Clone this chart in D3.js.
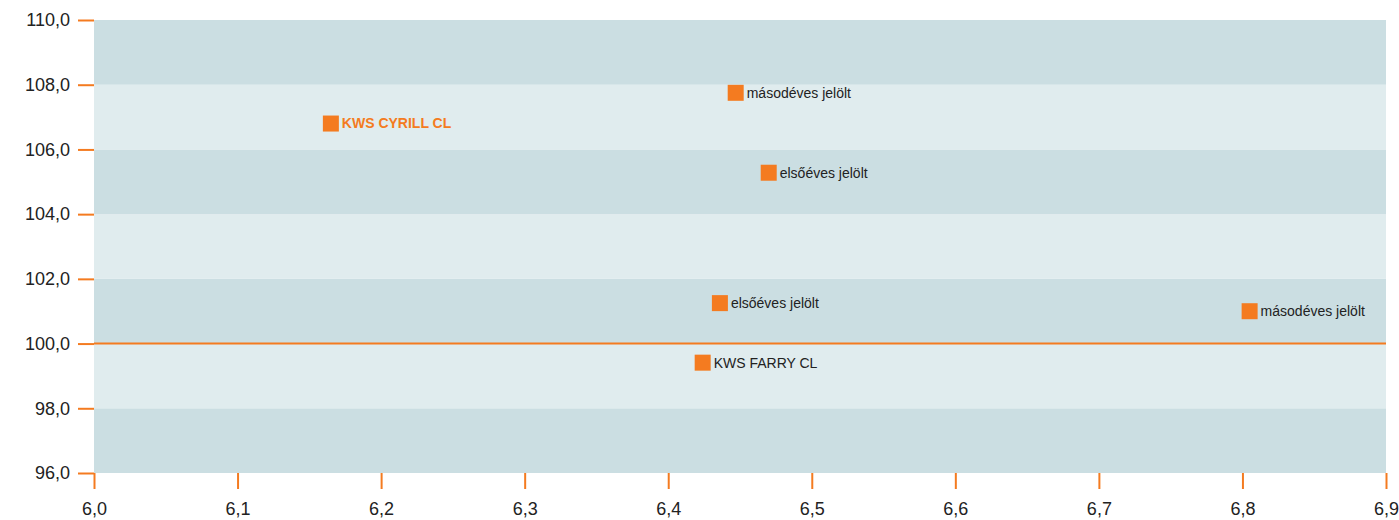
<!DOCTYPE html>
<html>
<head>
<meta charset="utf-8">
<script src="https://cdn.jsdelivr.net/npm/d3@7"></script>
<style>
body { margin:0; background:#fff; }
text { font-family: "Liberation Sans", Arial, sans-serif; }
</style>
</head>
<body>
<svg id="svg" width="1399" height="520"></svg>
<script>
var names   = ["KWS CYRILL CL", "másodéves jelölt", "elsőéves jelölt", "elsőéves jelölt", "másodéves jelölt", "KWS FARRY CL"],
    xVals   = [6.165, 6.447, 6.47, 6.436, 6.805, 6.424],
    yVals   = [106.8, 107.75, 105.28, 101.25, 101.0, 99.41],
    isOwn   = [true, false, false, false, false, false],
    xTicks  = [6.0, 6.1, 6.2, 6.3, 6.4, 6.5, 6.6, 6.7, 6.8, 6.9],
    yTicks  = [96, 98, 100, 102, 104, 106, 108, 110],
    refLine = 100;

var orange = "#f47b20",
    dark   = "#cbdee2",
    light  = "#e0ecee",
    ink    = "#222";

var svg = d3.select("#svg");

var x = d3.scaleLinear().domain([6.0, 6.9]).range([94, 1386]),
    y = d3.scaleLinear().domain([96, 110]).range([473, 20]);

var fmt = d3.formatLocale({decimal:",", thousands:" ", grouping:[3], currency:["",""]}).format(".1f");

// bands
svg.selectAll().data(d3.pairs(yTicks)).enter()
    .append("rect")
    .attr("x", x(6.0)).attr("width", x(6.9)-x(6.0))
    .attr("y", d=>y(d[1])).attr("height", d=>y(d[0])-y(d[1]))
    .attr("fill", (d,i)=> i%2 ? light : dark);

// reference line
svg.append("line")
    .attr("x1", x(6.0)).attr("x2", x(6.9))
    .attr("y1", y(refLine)).attr("y2", y(refLine))
    .attr("stroke", orange).attr("stroke-width", 2);

// y axis
var ya = svg.append("g").attr("transform", "translate(" + x(6.0) + ",0)")
    .call(d3.axisLeft(y).tickValues(yTicks).tickFormat(fmt).tickSize(16).tickPadding(8));
ya.select(".domain").remove();
ya.selectAll(".tick line").attr("stroke", orange).attr("stroke-width", 2);
ya.selectAll(".tick text").attr("fill", ink).attr("font-size", 18)
    .attr("font-family", "'Liberation Sans', Arial, sans-serif");

// x axis
var xa = svg.append("g").attr("transform", "translate(0," + y(96) + ")")
    .call(d3.axisBottom(x).tickValues(xTicks).tickFormat(fmt).tickSize(16).tickPadding(13));
xa.select(".domain").remove();
xa.selectAll(".tick line").attr("stroke", orange).attr("stroke-width", 2);
xa.selectAll(".tick text").attr("fill", ink).attr("font-size", 18)
    .attr("font-family", "'Liberation Sans', Arial, sans-serif");

// points
var pts = svg.selectAll(".pt").data(names.map((n,i)=>({n:n, x:xVals[i], y:yVals[i], own:isOwn[i]})))
    .enter().append("g").attr("class", "pt")
    .attr("transform", d=>"translate(" + x(d.x) + "," + y(d.y) + ")");

pts.append("rect").attr("x", -8).attr("y", -8).attr("width", 16).attr("height", 16).attr("fill", orange);

pts.append("text")
    .attr("x", 11).attr("dy", "0.35em")
    .attr("font-size", 14)
    .attr("font-weight", d=>d.own ? "bold" : "normal")
    .attr("fill", d=>d.own ? orange : ink)
    .text(d=>d.n);
</script>
</body>
</html>
